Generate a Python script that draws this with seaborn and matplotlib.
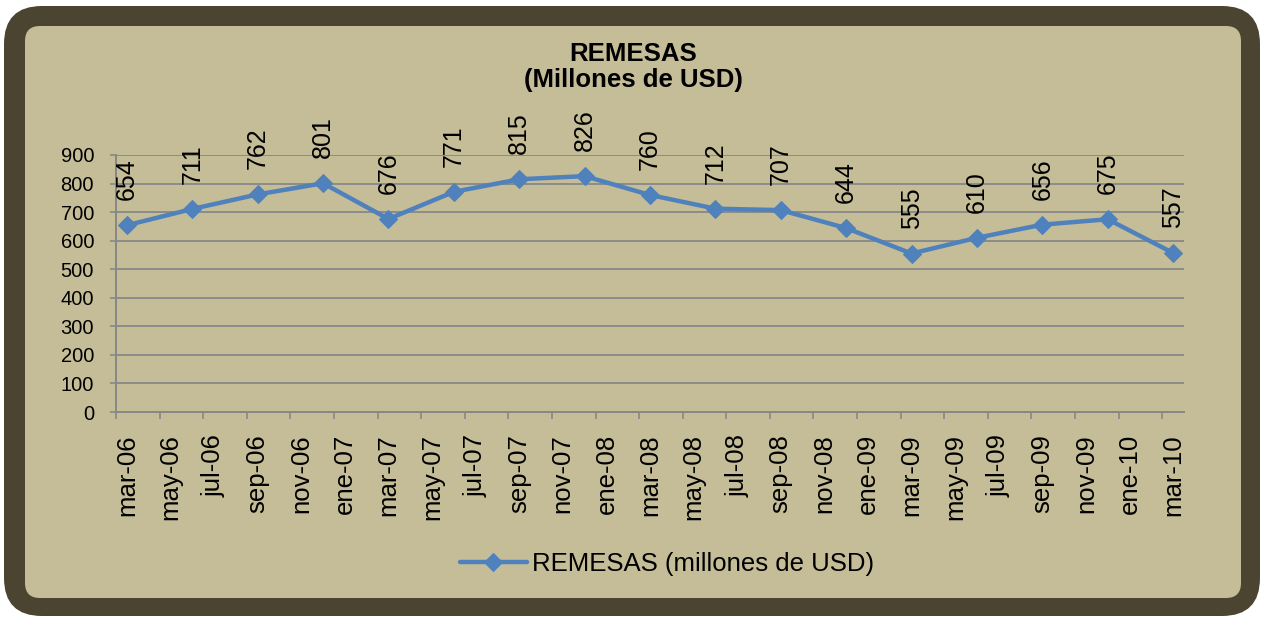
import pandas as pd
import seaborn as sns
import matplotlib.pyplot as plt
from matplotlib.patches import FancyBboxPatch
from matplotlib.ticker import FixedLocator

# datos trimestrales (mes de cada observacion) y remesas en millones de USD
periodos = ['2006-03', '2006-06', '2006-09', '2006-12', '2007-03', '2007-06',
            '2007-09', '2007-12', '2008-03', '2008-06', '2008-09', '2008-12',
            '2009-03', '2009-06', '2009-09', '2009-12', '2010-03']
remesas = [654, 711, 762, 801, 676, 771, 815, 826, 760, 712, 707, 644,
           555, 610, 656, 675, 557]

# etiquetas del eje x, una cada dos meses
etiquetas_x = ['mar-06', 'may-06', 'jul-06', 'sep-06', 'nov-06', 'ene-07',
               'mar-07', 'may-07', 'jul-07', 'sep-07', 'nov-07', 'ene-08',
               'mar-08', 'may-08', 'jul-08', 'sep-08', 'nov-08', 'ene-09',
               'mar-09', 'may-09', 'jul-09', 'sep-09', 'nov-09', 'ene-10',
               'mar-10']
valores_y = list(range(0, 1000, 100))

AZUL = '#4F81BD'
CAQUI = '#C4BD97'
OSCURO = '#4A4430'
GRIS = '#878787'

sns.set_theme(style='white')
plt.rcParams['font.family'] = ['Liberation Sans', 'DejaVu Sans']
plt.rcParams['text.color'] = 'black'
plt.rcParams['xtick.color'] = 'black'
plt.rcParams['ytick.color'] = 'black'

# eje de fechas en meses, cada mes ocupa una casilla (como en Excel)
p = pd.PeriodIndex(periodos, freq='M')
df = pd.DataFrame({'fecha': p, 'remesas': remesas})
inicio = p[0]
df['mes'] = [(x - inicio).n + 0.5 for x in p]
n_meses = (p[-1] - inicio).n + 1

fig = plt.figure(figsize=(12.62, 6.17), dpi=100)
fig.patch.set_facecolor('white')

# marco de fondo redondeado
bg = fig.add_axes([0, 0, 1, 1], zorder=0)
bg.set_xlim(0, 1262)
bg.set_ylim(617, 0)
bg.axis('off')
bg.add_patch(FancyBboxPatch((4, 6), 1256, 610,
                            boxstyle='round,pad=0,rounding_size=38',
                            fc=OSCURO, ec='none'))
bg.add_patch(FancyBboxPatch((25, 26), 1216, 572,
                            boxstyle='round,pad=0,rounding_size=15',
                            fc=CAQUI, ec='none'))

ax = fig.add_axes([116 / 1262, 205 / 617, 1068 / 1262, 257 / 617], zorder=1)
ax.set_facecolor('none')

sns.lineplot(x='mes', y='remesas', data=df, ax=ax, color=AZUL, linewidth=3.2,
             marker='D', markersize=9.5, markeredgecolor=AZUL,
             label='REMESAS (millones de USD)', legend=False)

for xm, v in zip(df['mes'], df['remesas']):
    ax.annotate(str(v), (xm, v), xytext=(0, 18), textcoords='offset points',
                rotation=90, ha='center', va='bottom', fontsize=18,
                color='black', annotation_clip=False)

ax.set_xlim(0, n_meses)
ax.set_ylim(0, 900)
ax.set_yticks(valores_y)
ax.set_yticklabels([str(v) for v in valores_y], fontsize=14.5)
ax.tick_params(axis='y', length=4.3, width=1.2, color=GRIS, labelcolor='black',
               pad=11.5, left=True, direction='out')

# marcas mayores cada dos meses, etiquetas centradas en el primer mes
ax.xaxis.set_major_locator(FixedLocator(list(range(0, n_meses, 2))))
ax.xaxis.set_minor_locator(FixedLocator([m + 0.5 for m in range(0, n_meses, 2)]))
ax.set_xticklabels([], minor=False)
ax.set_xticklabels(etiquetas_x, minor=True, rotation=90, fontsize=18.5)
ax.tick_params(axis='x', which='major', length=5, width=1.2, color=GRIS,
               bottom=True, direction='out')
ax.tick_params(axis='x', which='minor', length=0, pad=16, bottom=True,
               labelcolor='black')

ax.yaxis.grid(True, color=GRIS, linewidth=1.3)
ax.xaxis.grid(False)
for s in ['top', 'right']:
    ax.spines[s].set_visible(False)
for s in ['left', 'bottom']:
    ax.spines[s].set_color(GRIS)
    ax.spines[s].set_linewidth(1.4)
ax.set(xlabel='', ylabel='')

fig.text(633 / 1262, 1 - 67 / 617, 'REMESAS\n(Millones de USD)', ha='center',
         va='center', fontsize=18.5, fontweight='bold', linespacing=1.15,
         color='black')

h, l = ax.get_legend_handles_labels()
fig.legend(h, l, loc='center', bbox_to_anchor=(667 / 1262, 1 - 564 / 617),
           frameon=False, fontsize=18.5, handlelength=2.6, handletextpad=0.2,
           labelcolor='black')

fig.savefig('out.png', dpi=100)
